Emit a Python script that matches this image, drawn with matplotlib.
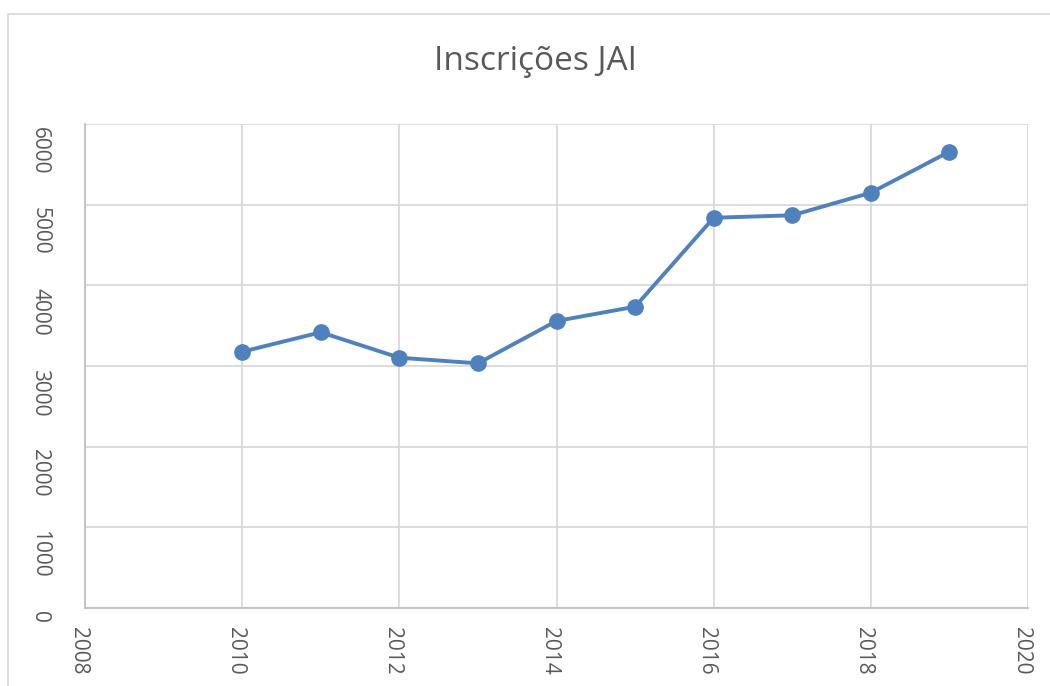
import matplotlib
matplotlib.use("Agg")
import matplotlib.pyplot as plt
from matplotlib.patches import Rectangle
from matplotlib.transforms import ScaledTranslation

years = [2010, 2011, 2012, 2013, 2014, 2015, 2016, 2017, 2018, 2019]
inscricoes = [3177, 3418, 3103, 3033, 3558, 3735, 4838, 4868, 5148, 5657]
x_ticks = [2008, 2010, 2012, 2014, 2016, 2018, 2020]
y_ticks = [0, 1000, 2000, 3000, 4000, 5000, 6000]

line_color = "#4F81BD"
grid_color = "#D9D9D9"
text_color = "#595959"

plt.rcParams["font.family"] = ["Open Sans", "DejaVu Sans"]

fig = plt.figure(figsize=(10.5, 6.86), dpi=100)
W, H = 1050, 686

# chart area border
fig.patches.append(Rectangle((8 / W, 0 - 0.01), 1.02, 1 - 14 / H + 0.01,
                             transform=fig.transFigure, fill=False,
                             edgecolor=grid_color, linewidth=1.2))

ax = fig.add_axes([85 / W, 1 - 608 / H, (1028 - 85) / W, (608 - 124) / H])
ax.plot(years, inscricoes, color=line_color, linewidth=2.8,
        marker="o", markersize=11, zorder=3, clip_on=False)

ax.set_xlim(2008, 2020)
ax.set_ylim(0, 6000)
ax.set_xticks(x_ticks)
ax.set_yticks(y_ticks)
ax.grid(True, color=grid_color, linewidth=1.3)
ax.set_axisbelow(True)

for side in ["top", "right"]:
    ax.spines[side].set_visible(False)
for side in ["left", "bottom"]:
    ax.spines[side].set_color("#BFBFBF")
    ax.spines[side].set_linewidth(1.3)

ax.tick_params(length=0, colors=text_color, labelsize=15)
ax.tick_params(axis="x", pad=14)
ax.tick_params(axis="y", pad=25)

for lbl in ax.get_xticklabels():
    lbl.set_rotation(-90)
    lbl.set_ha("center")
    lbl.set_va("top")
    lbl.set_transform(lbl.get_transform() + ScaledTranslation(-5 / 72, 0, fig.dpi_scale_trans))
for lbl in ax.get_yticklabels():
    lbl.set_rotation(-90)
    lbl.set_ha("right")
    lbl.set_va("top")
    lbl.set_transform(lbl.get_transform() + ScaledTranslation(0, -2 / 72, fig.dpi_scale_trans))

fig.text(536 / W, 1 - 62 / H, "Inscrições JAI", ha="center", va="center",
         fontsize=24, color=text_color)

fig.savefig("out.png", dpi=100)
